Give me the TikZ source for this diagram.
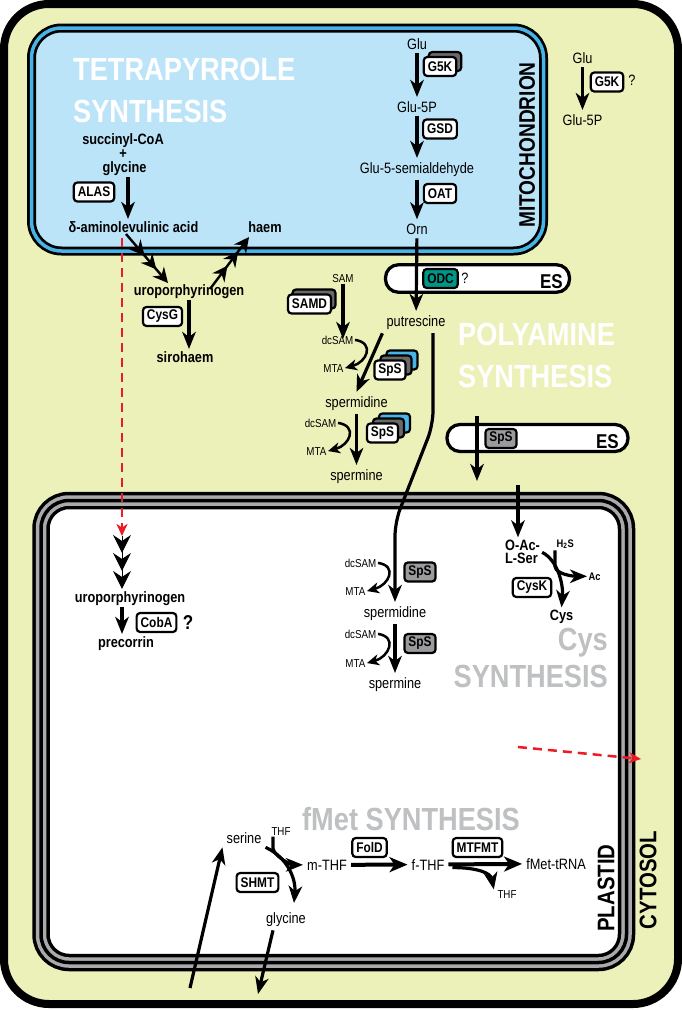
\documentclass[tikz,border=0pt]{standalone}
\usepackage{fontspec}
\setmainfont{Liberation Sans}[FakeStretch=0.85]
\usetikzlibrary{arrows.meta,calc}
\definecolor{cytofill}{RGB}{236,241,185}
\definecolor{mitofill}{RGB}{188,228,248}
\definecolor{mitoblue}{RGB}{70,180,230}
\definecolor{plgray}{RGB}{170,170,172}
\definecolor{shgray}{RGB}{105,105,108}
\definecolor{spsgray}{RGB}{155,155,158}
\definecolor{odcteal}{RGB}{0,150,135}
\definecolor{titlegray}{RGB}{190,192,194}
\definecolor{redc}{RGB}{237,28,36}
\begin{document}
\begin{tikzpicture}[x=1pt,y=-1pt,
  lab/.style={font=\fontsize{15}{17}\selectfont, inner sep=4pt},
  blab/.style={font=\fontsize{15}{17}\selectfont\bfseries, inner sep=2pt},
  slab/.style={font=\fontsize{11.5}{13}\selectfont, inner sep=1.5pt},
  sblab/.style={font=\fontsize{11}{13}\selectfont\bfseries, inner sep=1.5pt},
  enz/.style={draw, line width=2.2pt, rounded corners=3.5pt, fill=white,
    font=\fontsize{14}{16}\selectfont\bfseries, inner xsep=4pt, inner ysep=2pt, minimum height=19pt},
  ttl/.style={font=\fontsize{32}{36}\selectfont\bfseries, text=white, inner sep=0pt},
  gttl/.style={ttl, text=titlegray},
  cname/.style={font=\fontsize{22.5}{24}\selectfont\bfseries, inner sep=0pt, rotate=90},
  cname2/.style={font=\fontsize{24}{26}\selectfont\bfseries, inner sep=0pt, rotate=90},
  esbox/.style={draw, line width=3.3pt, fill=white, rounded corners=13pt},
  eslab/.style={font=\fontsize{20}{22}\selectfont\bfseries, inner sep=0pt},
  arr/.style={line width=3.2pt, -{Stealth[length=17pt,width=13.5pt,inset=5pt]}},
  harr/.style={line width=2.5pt, -{Stealth[length=12pt,width=11pt,inset=3.5pt]}},
  farr/.style={line width=4pt, -{Stealth[length=18pt,width=15pt,inset=5pt]}},
  chainarr/.style={line width=2.4pt, -{Stealth[length=15pt,width=15pt,inset=5pt,sep=3pt]Stealth[length=15pt,width=15pt,inset=5pt,sep=3pt]Stealth[length=15pt,width=15pt,inset=5pt]}},
  chev/.style={line width=1pt, -{Stealth[length=18pt,width=18pt,inset=6pt,sep=0pt]Stealth[length=18pt,width=18pt,inset=6pt,sep=0pt]Stealth[length=18pt,width=18pt,inset=6pt]}},
  reddash/.style={draw=redc, line width=2.5pt, dash pattern=on 9pt off 6pt, -{Stealth[length=12pt,width=11pt,inset=3.5pt,fill=redc]}}
]
\useasboundingbox (0,0) rectangle (682,1010);

% ---------- compartments ----------
\draw[line width=8pt, fill=cytofill, rounded corners=45pt] (4,4) rectangle (678,1004);

\fill[mitofill, rounded corners=30pt] (31.5,28) rectangle (543.5,251);
\draw[line width=9pt, rounded corners=30pt] (31.5,28) rectangle (543.5,251);
\draw[line width=3.5pt, mitoblue, rounded corners=30pt] (31.5,28) rectangle (543.5,251);

\fill[white, rounded corners=28pt] (41,500.5) rectangle (626.5,962.5);
\draw[line width=17.5pt, rounded corners=28pt] (41,500.5) rectangle (626.5,962.5);
\draw[line width=10.5pt, plgray, rounded corners=28pt] (41,500.5) rectangle (626.5,962.5);
\draw[line width=3.5pt, rounded corners=28pt] (41,500.5) rectangle (626.5,962.5);

% ---------- titles ----------
\node[ttl, anchor=base west] (t1a) at (73,80) {TETRAPYRROLE};
\node[ttl, anchor=base west] (t1b) at (73,122) {SYNTHESIS};
\node[ttl, anchor=base west] (t2a) at (458,345) {POLYAMINE};
\node[ttl, anchor=base west] (t2b) at (458,387) {SYNTHESIS};
\node[gttl, anchor=base east] (t3a) at (608,650) {Cys};
\node[gttl, anchor=base east] (t3b) at (608,687) {SYNTHESIS};
\node[gttl, anchor=base] (t4) at (411,830) {fMet SYNTHESIS};

\node[cname] (mitolab) at (527,145) {MITOCHONDRION};
\node[cname2] (pllab) at (606,888) {PLASTID};
\node[cname2] (cylab) at (648,880) {CYTOSOL};

% ---------- ES boxes ----------
\node[esbox, minimum width=184pt, minimum height=27.5pt] (es1) at (477.5,278.5) {};
\node[eslab, anchor=base east] (es1lab) at (563,288) {ES};
\node[esbox, minimum width=181pt, minimum height=27pt] (es2) at (537.5,438) {};
\node[eslab, anchor=base east] (es2lab) at (619,448) {ES};

% ---------- labels ----------
\node[lab, anchor=base] (glu1) at (417,49) {Glu};
\node[lab, anchor=base] (g5p1) at (417,112) {Glu-5P};
\node[lab, anchor=base] (semi) at (417,173) {Glu-5-semialdehyde};
\node[lab, anchor=base] (orn) at (417,234) {Orn};
\node[lab, anchor=base] (glu2) at (582.5,63) {Glu};
\node[lab, anchor=base] (g5p2) at (582.5,125) {Glu-5P};
\node[lab, anchor=base] (q1) at (632,85) {?};
\node[lab, anchor=base] (q2) at (465,283) {?};
\node[lab, anchor=base] (putr) at (416,326) {putrescine};
\node[lab, anchor=base] (spd1) at (356.5,407) {spermidine};
\node[lab, anchor=base] (spm1) at (356.5,480) {spermine};
\node[lab, anchor=base] (spd2) at (395,617) {spermidine};
\node[lab, anchor=base] (spm2) at (395,688) {spermine};
\node[lab, anchor=base] (ser) at (244,843) {serine};
\node[lab, anchor=base] (mthf) at (327,870) {m-THF};
\node[lab, anchor=base] (fthf) at (428,870) {f-THF};
\node[lab, anchor=base] (fmet) at (556,869) {fMet-tRNA};
\node[lab, anchor=base] (gly2) at (286,923) {glycine};

\node[slab, anchor=base] (sam) at (343,282) {SAM};
\node[slab, anchor=base east] (dcsam1) at (355,344) {dcSAM};
\node[slab, anchor=base east] (mta1) at (345,372) {MTA};
\node[slab, anchor=base east] (dcsam2) at (338,427) {dcSAM};
\node[slab, anchor=base east] (mta2) at (328,455) {MTA};
\node[slab, anchor=base east] (dcsam3) at (378,567) {dcSAM};
\node[slab, anchor=base east] (mta3) at (367,595) {MTA};
\node[slab, anchor=base east] (dcsam4) at (378,638) {dcSAM};
\node[slab, anchor=base east] (mta4) at (367,667) {MTA};
\node[slab, anchor=base] (thf1) at (281,835) {THF};
\node[slab, anchor=base] (thf2) at (507,898) {THF};

\node[blab, anchor=base] (succ) at (123,144) {succinyl-CoA};
\node[blab, anchor=base, inner sep=0pt] (plus) at (123,158) {+};
\node[blab, anchor=base] (gly1) at (124.5,172) {glycine};
\node[blab, anchor=base] (ala) at (133.5,232) {δ-aminolevulinic acid};
\node[blab, anchor=base] (haem) at (265,232) {haem};
\node[blab, anchor=base] (uro1) at (189,295) {uroporphyrinogen};
\node[blab, anchor=base] (siro) at (185,362) {sirohaem};
\node[blab, anchor=base] (uro2) at (130,602) {uroporphyrinogen};
\node[blab, anchor=base] (prec) at (126,647) {precorrin};
\node[blab, anchor=base, font=\fontsize{20}{22}\selectfont\bfseries] (q3) at (188,629) {?};
\node[blab, anchor=base west] (oac1) at (503,550) {O-Ac-};
\node[blab, anchor=base west] (oac2) at (503,563) {L-Ser};
\node[blab, anchor=base] (cysl) at (561.5,620) {Cys};
\node[sblab, anchor=base west] (h2s) at (555,547) {H\textsubscript{2}S};
\node[sblab, anchor=base west] (acl) at (587,580) {Ac};

% ---------- coordinates for free ends ----------
\coordinate (pc) at (433,333);
\coordinate (e2a) at (477,416);
\coordinate (e2b) at (477,481);
\coordinate (c2a) at (518,485);
\coordinate (ch1a) at (126,234);
\coordinate (ch1b) at (168,283);
\coordinate (ch2a) at (210,289);
\coordinate (ch2b) at (249,237);
\coordinate (rda) at (122,238);
\coordinate (rdb) at (122,536);
\coordinate (rdc) at (518,747);
\coordinate (rdd) at (641,759);
\coordinate (gtip) at (294,903);
\coordinate (sin) at (190,988);
\coordinate (gout) at (258,994);

% ---------- connectors ----------
\draw[arr] (glu1) -- (g5p1);
\draw[arr] (g5p1) -- (semi);
\draw[arr] (semi) -- (orn);
\draw[arr] (orn) -- (putr);
\draw[arr] (glu2) -- (g5p2);

\draw[arr] ([xshift=3.5pt]gly1.south) -- ([xshift=3.5pt]gly1.south |- ala.north);
\draw[chainarr] (ch1a) -- (ch1b);
\draw[chainarr] (ch2a) -- (ch2b);
\draw[arr] (uro1.south) -- (uro1.south |- siro.north);
\draw[reddash] (rda) -- (rdb);
\draw[chev] (rdb) -- (rdb |- uro2.north);
\draw[arr] (uro2.south -| rdb) -- (prec.north -| rdb);

\draw[arr, shorten >=-5pt] (sam.south) -- (sam.south |- dcsam1.north);
\draw[arr] (putr.south west) -- (spd1.north);
\draw[arr] (spd1) -- (spm1);
\draw[harr] (dcsam1.east) .. controls +(20,3) and +(22,-6) .. (mta1.east);
\draw[harr] (dcsam2.east) .. controls +(20,3) and +(22,-6) .. (mta2.east);

\draw[arr, rounded corners=14pt] (pc) -- (433,425) -- (395,522) -- (spd2.north);
\draw[arr] (spd2) -- (spm2);
\draw[harr] (dcsam3.east) .. controls +(20,3) and +(22,-6) .. (mta3.east);
\draw[harr] (dcsam4.east) .. controls +(20,3) and +(22,-6) .. (mta4.east);

\draw[arr] (e2a) -- (e2b);
\draw[arr] (c2a) -- (c2a |- oac1.north);
\draw[arr] (oac1.south east) .. controls +(16,8) and +(2,-22) .. (cysl.north);
\draw[arr] (h2s.south west) -- ++(0,16) .. controls +(1,8) and +(-14,0) .. (acl.west);

\draw[reddash] (rdc) -- (rdd);

\draw[arr] (ser.south east) .. controls +(22,10) and +(2,-24) .. (gtip);
\draw[arr] ([xshift=-8pt]thf1.south) -- ++(0,12) .. controls +(2,8) and +(-12,0) .. (mthf.west);
\draw[farr] (mthf) -- (fthf);
\draw[farr] (fthf) -- (fmet);
\draw[arr] ([xshift=4pt,yshift=-3pt]fthf.east) .. controls +(26,0) and +(-3,-16) .. ([xshift=-2pt,yshift=-1pt]thf2.north west);
\draw[arr] (sin) -- (ser.south west);
\draw[arr] ([xshift=-13pt]gly2.south) -- (gout);

% ---------- enzyme boxes ----------
\node[enz, fill=shgray] (g5k1s) at (445,61.5) {\phantom{G5K}};
\node[enz] (g5k1) at (440,66.5) {G5K};
\node[enz] (gsd) at (440,129) {GSD};
\node[enz] (oat) at (440,193.5) {OAT};
\node[enz] (g5k2) at (607,82) {G5K};
\node[enz] (alas) at (94,192) {ALAS};
\node[enz] (cysg) at (162.5,316.5) {CysG};
\node[enz, fill=shgray] (samds) at (314,299) {\phantom{SAMD}};
\node[enz] (samd) at (309.5,304) {SAMD};
\node[enz, fill=mitoblue] (sps1b) at (402,360) {\phantom{SpS}};
\node[enz, fill=shgray] (sps1s) at (396,365) {\phantom{SpS}};
\node[enz] (sps1) at (390,370) {SpS};
\node[enz, fill=mitoblue] (sps2b) at (394.5,423) {\phantom{SpS}};
\node[enz, fill=shgray] (sps2s) at (388.5,428) {\phantom{SpS}};
\node[enz] (sps2) at (382.5,433) {SpS};
\node[enz, fill=odcteal] (odc) at (440.5,278.5) {ODC};
\node[enz, fill=spsgray] (sps3) at (501,438.5) {SpS};
\node[enz, fill=spsgray] (sps4) at (420,572) {SpS};
\node[enz, fill=spsgray] (sps5) at (420,643.5) {SpS};
\node[enz] (cysk) at (532,587.5) {CysK};
\node[enz] (coba) at (156.5,622.5) {CobA};
\node[enz] (shmt) at (257.5,882.5) {SHMT};
\node[enz] (fold) at (369.5,847.5) {FolD};
\node[enz] (mtfmt) at (477.5,847.5) {MTFMT};
\end{tikzpicture}
\end{document}
